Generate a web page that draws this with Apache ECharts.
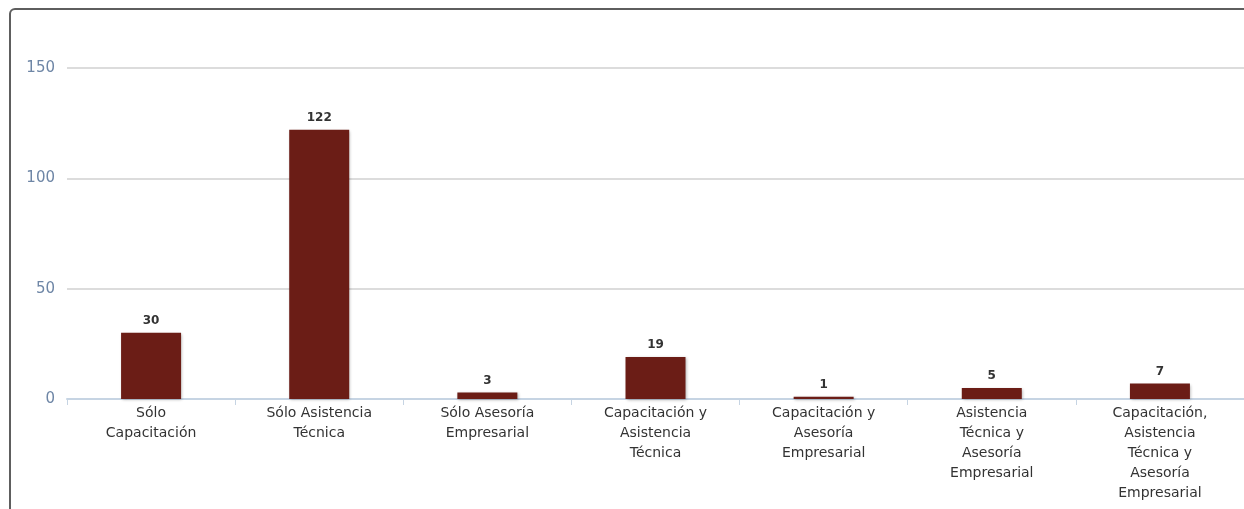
<!DOCTYPE html>
<html><head><meta charset="utf-8">
<script src="https://cdn.jsdelivr.net/npm/echarts@6/dist/echarts.min.js"></script>
<style>html,body{margin:0;padding:0;background:#fff;}#c{width:1244px;height:509px;}</style>
</head><body><div id="c"></div>
<script>
const categories = [
  'Sólo\nCapacitación',
  'Sólo Asistencia\nTécnica',
  'Sólo Asesoría\nEmpresarial',
  'Capacitación y\nAsistencia\nTécnica',
  'Capacitación y\nAsesoría\nEmpresarial',
  'Asistencia\nTécnica y\nAsesoría\nEmpresarial',
  'Capacitación,\nAsistencia\nTécnica y\nAsesoría\nEmpresarial'
];
const values = [30, 122, 3, 19, 1, 5, 7];
const yTicks = [0, 50, 100, 150];

const chart = echarts.init(document.getElementById('c'), null, {renderer: 'canvas'});
chart.setOption({
  animation: false,
  graphic: [{
    type: 'rect', z: 100,
    shape: {x: 10, y: 9, width: 1400, height: 700, r: 5},
    style: {fill: 'none', stroke: '#5e5e5e', lineWidth: 2}
  }],
  grid: {left: 67, right: -1, top: 68, bottom: 110, containLabel: false},
  xAxis: {
    type: 'category', data: categories,
    axisLine: {lineStyle: {color: '#c6d4e3', width: 2}},
    axisTick: {show: true, length: 6, lineStyle: {color: '#c6d4e3', width: 1}},
    axisLabel: {interval: 0, color: '#333', fontFamily: 'DejaVu Sans', fontSize: 14, lineHeight: 20, margin: 4}
  },
  yAxis: {
    type: 'value', min: yTicks[0], max: yTicks[yTicks.length - 1], interval: 50,
    axisLine: {show: false}, axisTick: {show: false},
    splitLine: {lineStyle: {color: '#dcdcdc', width: 2}},
    axisLabel: {color: '#6e86a6', fontFamily: 'DejaVu Sans', fontSize: 15, margin: 12}
  },
  series: [{
    type: 'bar', data: values, barWidth: 60,
    itemStyle: {color: '#6b1d16', shadowColor: 'rgba(0,0,0,0.3)', shadowBlur: 3, shadowOffsetX: 1, shadowOffsetY: 1},
    label: {show: true, position: 'top', distance: 6, color: '#333', fontFamily: 'DejaVu Sans', fontSize: 12, fontWeight: 600}
  }]
});
</script></body></html>
